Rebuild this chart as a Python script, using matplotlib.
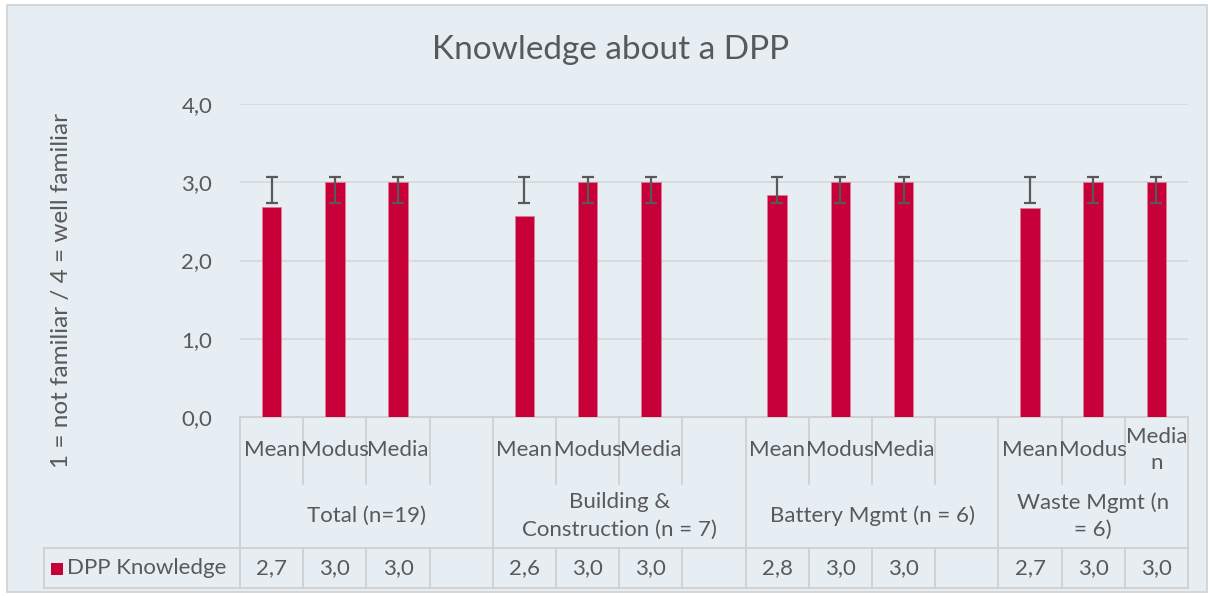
import matplotlib.pyplot as plt
from matplotlib.patches import Rectangle
from matplotlib.ticker import FuncFormatter
import matplotlib.transforms as mtransforms

# data
groups = ["Total (n=19)", "Building &\nConstruction (n = 7)",
          "Battery Mgmt (n = 6)", "Waste Mgmt (n\n= 6)"]
stat_labels = [["Mean", "Modus", "Media"], ["Mean", "Modus", "Media"],
               ["Mean", "Modus", "Media"], ["Mean", "Modus", "Media\nn"]]
values = [2.68, 3.0, 3.0, 2.57, 3.0, 3.0, 2.835, 3.0, 3.0, 2.665, 3.0, 3.0]
err_low = [2.735] * 12
err_high = [3.064] * 12
series_name = "DPP Knowledge"

bar_col = "#C8003A"
bg = "#E6EEF4"
txt = "#595959"
grid_col = "#D5D9DC"
fs = 16

W, H = 1214, 596
plt.rcParams['font.family'] = ['Lato', 'DejaVu Sans']
fig = plt.figure(figsize=(W / 100, H / 100), dpi=100, facecolor="white")


def fx(px):
    return px / W


def fy(py):
    return 1 - py / H


# chart area box
fig.patches.append(Rectangle((fx(7), fy(592)), fx(1207) - fx(7), fy(5) - fy(592),
                             transform=fig.transFigure, facecolor=bg,
                             edgecolor="#D0D0D0", lw=1.2, zorder=-5))

ax = fig.add_axes([fx(240), fy(417), fx(1188) - fx(240), fy(104) - fy(417)])
ax.set_facecolor("none")
ax.set_zorder(2)

# slot positions: 3 stats + 1 spacer per group, last group has no spacer
xs = []
for g in range(len(groups)):
    for s in range(3):
        xs.append(g * 4 + s)
nslots = len(groups) * 4 - 1

centers = [(lo + hi) / 2 for lo, hi in zip(err_low, err_high)]
halfs = [(hi - lo) / 2 for lo, hi in zip(err_low, err_high)]

ax.bar(xs, values, width=0.31, color=bar_col, edgecolor="#E07A95", lw=0.6, zorder=3)
ax.errorbar(xs, centers, yerr=halfs, fmt="none", ecolor="#595959",
            elinewidth=1.6, capsize=4.5, capthick=1.6, zorder=4)

ax.set_xlim(-0.5, nslots - 0.5)
ax.set_ylim(0, 4)
ax.set_yticks([0, 1, 2, 3, 4])
ax.yaxis.set_major_formatter(FuncFormatter(lambda v, p: f"{v:.1f}".replace(".", ",")))
ax.tick_params(axis="y", length=0, pad=20, labelsize=fs, labelcolor=txt)
ax.set_xticks([])
for sp in ax.spines.values():
    sp.set_visible(False)
ax.grid(axis="y", color=grid_col, lw=1.3, zorder=0)
ax.set_axisbelow(True)

fig.text(fx(611), fy(50), "Knowledge about a DPP", ha="center", va="center",
         fontsize=24, color=txt)
fig.text(fx(62), fy(290), "1 = not familiar / 4 = well familiar", rotation=90,
         ha="center", va="center", fontsize=17.5, color=txt)

# data table under the axis
tr = mtransforms.blended_transform_factory(ax.transData, fig.transFigure)
line_kw = dict(color="#D0D0D0", lw=1.3, clip_on=False, zorder=1)
y_top, y_cat, y_grp, y_bot = 417, 484, 548, 588
left_edge = -0.5
right_edge = nslots - 0.5

# horizontal lines
ax.plot([left_edge, right_edge], [fy(y_top)] * 2, transform=tr, **line_kw)
ax.plot([left_edge, right_edge], [fy(y_bot)] * 2, transform=tr, **line_kw)
ax.plot([left_edge, right_edge], [fy(y_grp)] * 2, transform=tr, **line_kw)
for xa, xb, ya, yb in [(44, 240, y_grp, y_grp), (44, 240, y_bot, y_bot), (44, 44, y_grp, y_bot)]:
    fig.lines.append(plt.Line2D([fx(xa), fx(xb)], [fy(ya), fy(yb)],
                                transform=fig.transFigure, color="#D0D0D0", lw=1.3))

# vertical lines
for k in range(nslots + 1):
    b = k - 0.5
    if k % 4 == 0 or k == nslots:
        ax.plot([b, b], [fy(y_top), fy(y_bot)], transform=tr, **line_kw)
    else:
        ax.plot([b, b], [fy(y_top), fy(y_cat)], transform=tr, **line_kw)
        ax.plot([b, b], [fy(y_grp), fy(y_bot)], transform=tr, **line_kw)

# category, group and value texts
i = 0
for g, name in enumerate(groups):
    for s, lab in enumerate(stat_labels[g]):
        x = g * 4 + s
        ax.text(x, fy(450), lab, transform=tr, ha="center", va="center",
                fontsize=fs, color=txt, linespacing=1.4)
        ax.text(x, fy(568), f"{values[i]:.1f}".replace(".", ","), transform=tr,
                ha="center", va="center", fontsize=fs, color=txt)
        i += 1
    gc = (g * 4 - 0.5 + min(g * 4 + 3.5, right_edge)) / 2
    ax.text(gc, fy(516), name, transform=tr, ha="center", va="center",
            fontsize=fs, color=txt, linespacing=1.45)

fig.patches.append(Rectangle((fx(51), fy(575)), fx(12), 12 / H,
                             transform=fig.transFigure, facecolor=bar_col,
                             edgecolor="none"))
fig.text(fx(67), fy(568), series_name, ha="left", va="center", fontsize=fs, color=txt)

fig.savefig("out.png", dpi=100, facecolor="white")
